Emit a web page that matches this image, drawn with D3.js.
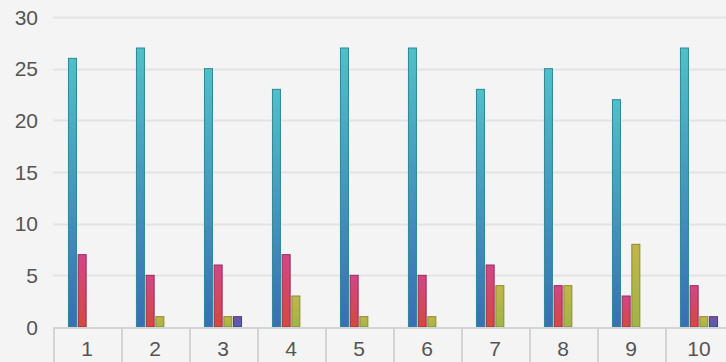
<!DOCTYPE html>
<html>
<head>
<meta charset="utf-8">
<script src="https://cdn.jsdelivr.net/npm/d3@7"></script>
<style>
  html, body { margin: 0; padding: 0; background: #f4f4f4; }
  svg { display: block; }
  text { font-family: "Helvetica Neue", "Liberation Sans", Arial, sans-serif; }
</style>
</head>
<body>
<svg id="chart" width="726" height="362"></svg>
<script>
const categories = ["1", "2", "3", "4", "5", "6", "7", "8", "9", "10"];
const series1 = [26, 27, 25, 23, 27, 27, 23, 25, 22, 27];
const series2 = [7, 5, 6, 7, 5, 5, 6, 4, 3, 4];
const series3 = [0, 1, 1, 3, 1, 1, 4, 4, 8, 1];
const series4 = [0, 0, 1, 0, 0, 0, 0, 0, 0, 1];
const yTicks = [0, 5, 10, 15, 20, 25, 30];

const seriesList = [series1, series2, series3, series4];
const seriesKeys = ["s1", "s2", "s3", "s4"];
// top colour, bottom colour, outline
const palette = [
  ["#4fc0c8", "#3a6db5", "#2e8894"],
  ["#d2468a", "#d24a3c", "#9a2a55"],
  ["#c2b64a", "#9eb548", "#8a8a30"],
  ["#7a52a6", "#4a62b2", "#4a3a80"]
];

const svg = d3.select("#chart");
const W = 726, H = 362;
const margin = { left: 53, right: -7, top: 17, bottom: 35 };
const innerW = W - margin.left - margin.right;
const innerH = H - margin.top - margin.bottom;

// each bar carries its own top-to-bottom gradient
const defs = svg.append("defs");
palette.forEach((c, i) => {
  const gr = defs.append("linearGradient")
    .attr("id", "grad" + i)
    .attr("x1", 0).attr("x2", 0).attr("y1", 0).attr("y2", 1);
  gr.append("stop").attr("offset", "0%").attr("stop-color", c[0]);
  gr.append("stop").attr("offset", "100%").attr("stop-color", c[1]);
});

const x = d3.scaleBand().domain(categories).range([0, innerW]).paddingInner(0).paddingOuter(0);
const y = d3.scaleLinear().domain([0, 30]).range([innerH, 0]);
const barStep = 9.7, barW = 8;
const xs = d3.scaleBand().domain(seriesKeys)
  .range([x.bandwidth() / 2 - 2 * barStep, x.bandwidth() / 2 + 2 * barStep]);

const g = svg.append("g").attr("transform", `translate(${margin.left},${margin.top})`);

// horizontal grid
g.append("g").selectAll("line").data(yTicks.filter(t => t > 0)).join("line")
  .attr("x1", 0).attr("x2", innerW)
  .attr("y1", d => Math.round(y(d)) + 0.5).attr("y2", d => Math.round(y(d)) + 0.5)
  .attr("stroke", "#e3e3e3").attr("stroke-width", 2);

// y labels
g.append("g").selectAll("text").data(yTicks).join("text")
  .attr("x", -15).attr("y", d => y(d))
  .attr("dy", "0.36em")
  .attr("text-anchor", "end")
  .attr("font-size", 21)
  .attr("fill", "#555")
  .text(d => d);

// bars
seriesList.forEach((vals, si) => {
  g.append("g").selectAll("rect")
    .data(vals.map((v, i) => ({ c: categories[i], v })).filter(d => d.v > 0))
    .join("rect")
    .attr("x", d => x(d.c) + xs(seriesKeys[si]) + (xs.bandwidth() - barW) / 2)
    .attr("y", d => y(d.v))
    .attr("width", barW)
    .attr("height", d => innerH - y(d.v))
    .attr("fill", "url(#grad" + si + ")")
    .attr("stroke", palette[si][2])
    .attr("stroke-width", 1);
});

// x axis box
const ax = g.append("g").attr("transform", `translate(0,${innerH})`);
ax.append("rect").attr("x", 0).attr("y", 0).attr("width", innerW).attr("height", margin.bottom)
  .attr("fill", "#f4f4f4");
ax.append("line").attr("x1", 0).attr("x2", innerW).attr("y1", 1).attr("y2", 1)
  .attr("stroke", "#d4d4d4").attr("stroke-width", 2);
ax.selectAll("line.sep").data(categories).join("line").attr("class", "sep")
  .attr("x1", d => x(d) + 1).attr("x2", d => x(d) + 1)
  .attr("y1", 0).attr("y2", margin.bottom)
  .attr("stroke", "#d4d4d4").attr("stroke-width", 2);
ax.selectAll("text").data(categories).join("text")
  .attr("x", d => x(d) + x.bandwidth() / 2)
  .attr("y", 21)
  .attr("dy", "0.36em")
  .attr("text-anchor", "middle")
  .attr("font-size", 21)
  .attr("fill", "#555")
  .text(d => d);
</script>
</body>
</html>
